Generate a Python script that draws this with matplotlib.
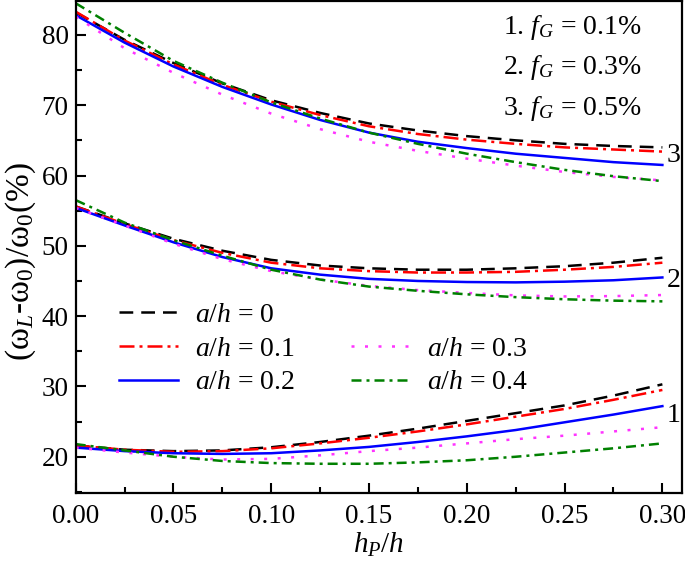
#!/usr/bin/env python3
# -*- coding: utf-8 -*-
"""
频率变化率曲线: (ωL-ω0)/ω0 随 hP/h 的变化, 三组 fG, 五种 a/h
"""

import matplotlib
matplotlib.use('Agg')
import matplotlib.pyplot as plt
from matplotlib.lines import Line2D
from matplotlib.ticker import MultipleLocator, FormatStrFormatter

# 字体设置 (Times 风格)
plt.rcParams['font.family'] = ['Liberation Serif', 'DejaVu Serif']
plt.rcParams['mathtext.fontset'] = 'custom'
plt.rcParams['mathtext.rm'] = 'Liberation Serif'
plt.rcParams['mathtext.it'] = 'Liberation Serif:italic'
plt.rcParams['axes.unicode_minus'] = False

# 横坐标 hP/h
hp = [0.0, 0.025, 0.05, 0.075, 0.1, 0.125, 0.15, 0.175, 0.2, 0.225, 0.25, 0.275, 0.3]

# 曲线标签
ah_labels = ['0', '0.1', '0.2', '0.3', '0.4']
group_labels = ['1', '2', '3']
fg_labels = ['0.1%', '0.3%', '0.5%']

# 组 1: fG = 0.1%
g1_ah0 = [21.6, 21.0, 20.8, 20.9, 21.35, 22.1, 23.0, 24.0, 25.1, 26.2, 27.3, 28.7, 30.3]
g1_ah1 = [21.6, 21.0, 20.7, 20.8, 21.2, 21.9, 22.7, 23.6, 24.6, 25.7, 26.8, 28.1, 29.5]
g1_ah2 = [21.3, 20.8, 20.5, 20.4, 20.5, 20.9, 21.4, 22.1, 22.9, 23.8, 24.9, 26.0, 27.2]
g1_ah3 = [21.3, 20.6, 20.0, 19.6, 19.7, 20.2, 20.8, 21.3, 21.9, 22.5, 23.0, 23.6, 24.2]
g1_ah4 = [21.8, 20.9, 20.0, 19.4, 19.1, 19.0, 19.0, 19.2, 19.5, 20.0, 20.6, 21.2, 21.9]

# 组 2: fG = 0.3%
g2_ah0 = [55.6, 53.2, 51.0, 49.3, 48.0, 47.2, 46.8, 46.6, 46.6, 46.8, 47.1, 47.6, 48.3]
g2_ah1 = [55.6, 53.1, 50.8, 49.0, 47.6, 46.8, 46.4, 46.2, 46.2, 46.3, 46.6, 47.0, 47.6]
g2_ah2 = [55.4, 52.9, 50.5, 48.4, 46.8, 45.9, 45.3, 45.0, 44.85, 44.8, 44.9, 45.1, 45.5]
g2_ah3 = [55.4, 52.9, 50.3, 48.1, 46.4, 45.2, 44.3, 43.7, 43.3, 42.95, 42.8, 42.85, 43.0]
g2_ah4 = [56.5, 53.3, 50.8, 48.6, 46.6, 45.2, 44.2, 43.6, 43.1, 42.7, 42.4, 42.2, 42.1]

# 组 3: fG = 0.5%
g3_ah0 = [83.2, 79.3, 76.0, 73.1, 70.7, 68.9, 67.4, 66.4, 65.6, 65.0, 64.5, 64.2, 64.0]
g3_ah1 = [83.3, 79.2, 75.8, 72.9, 70.5, 68.6, 67.0, 65.9, 65.1, 64.5, 64.0, 63.7, 63.4]
g3_ah2 = [82.8, 78.9, 75.5, 72.6, 70.1, 67.9, 66.1, 64.8, 63.9, 63.1, 62.5, 61.9, 61.5]
g3_ah3 = [82.6, 78.1, 74.6, 71.5, 68.8, 66.6, 64.8, 63.5, 62.4, 61.4, 60.5, 59.8, 59.3]
g3_ah4 = [84.5, 80.3, 76.3, 73.2, 70.4, 68.1, 66.1, 64.5, 63.1, 61.9, 60.8, 59.9, 59.2]

groups = [
    [g1_ah0, g1_ah1, g1_ah2, g1_ah3, g1_ah4],
    [g2_ah0, g2_ah1, g2_ah2, g2_ah3, g2_ah4],
    [g3_ah0, g3_ah1, g3_ah2, g3_ah3, g3_ah4],
]

# 线型: 虚线 / 点划线 / 实线 / 点线 / 短点划线
colors = ['black', 'red', 'blue', '#ff33ff', 'green']
styles = [(0, (5.5, 3.2)), (0, (6, 2, 1.2, 2)), '-', (0, (1.2, 4.2)), (0, (4, 2, 1.2, 2))]


def plot_freq_change(output='out.png'):
    """绘制频率变化率曲线"""
    fig = plt.figure(figsize=(6.85, 5.68), dpi=100)
    ax = fig.add_axes([0.1105, 0.1315, 0.8856, 0.8665])

    for g in groups:
        for i, ys in enumerate(g):
            ax.plot(hp, ys, color=colors[i], linestyle=styles[i], linewidth=1.8)

    # 曲线组编号 (放在蓝线末端附近)
    offsets = [-1.3, -0.4, 1.3]
    for lab, g, dy in zip(group_labels, groups, offsets):
        ax.text(0.3022, g[2][-1] + dy, lab, fontsize=20, ha='left', va='center')

    ax.set_xlim(0, 0.3102)
    ax.set_ylim(14.8, 84.8)
    ax.xaxis.set_major_locator(MultipleLocator(0.05))
    ax.xaxis.set_minor_locator(MultipleLocator(0.025))
    ax.yaxis.set_major_locator(MultipleLocator(10))
    ax.yaxis.set_minor_locator(MultipleLocator(5))
    ax.xaxis.set_major_formatter(FormatStrFormatter('%.2f'))
    ax.tick_params(which='both', direction='in', top=False, right=False,
                   width=1.5, labelsize=19.5)
    ax.tick_params(which='major', length=7)
    ax.tick_params(which='minor', length=4)
    ax.tick_params(axis='x', pad=8)
    ax.tick_params(axis='y', pad=5)
    for sp in ax.spines.values():
        sp.set_linewidth(1.6)

    ax.set_xlabel('$h_P/h$', fontsize=21, labelpad=1)
    ax.set_ylabel('(ω$_L$-ω$_0$)/ω$_0$(%)', fontsize=24)
    ax.yaxis.set_label_coords(-0.062, 0.47)

    # fG 说明文字
    for k, (lab, fg) in enumerate(zip(group_labels, fg_labels)):
        ax.text(0.2186, 81.0 - k * 5.7, lab + '. $f_G$ = ' + fg, fontsize=20,
                ha='left', va='center')

    # 图例 (两列, 右上空位)
    handles = []
    labels = []
    for i in range(3):
        handles.append(Line2D([], [], color=colors[i], linestyle=styles[i], linewidth=1.8))
        labels.append('$a/h$ = ' + ah_labels[i])
    handles.append(Line2D([], [], color='none'))
    labels.append(' ')
    for i in range(3, 5):
        handles.append(Line2D([], [], color=colors[i], linestyle=styles[i], linewidth=1.8))
        labels.append('$a/h$ = ' + ah_labels[i])
    ax.legend(handles, labels, ncol=2, loc='upper left', bbox_to_anchor=(0.071, 0.388),
              frameon=False, fontsize=20, handlelength=2.15, handletextpad=0.6,
              columnspacing=2.0, labelspacing=0.3, borderaxespad=0, borderpad=0)

    plt.savefig(output, dpi=100)
    plt.close()


if __name__ == '__main__':
    plot_freq_change()
